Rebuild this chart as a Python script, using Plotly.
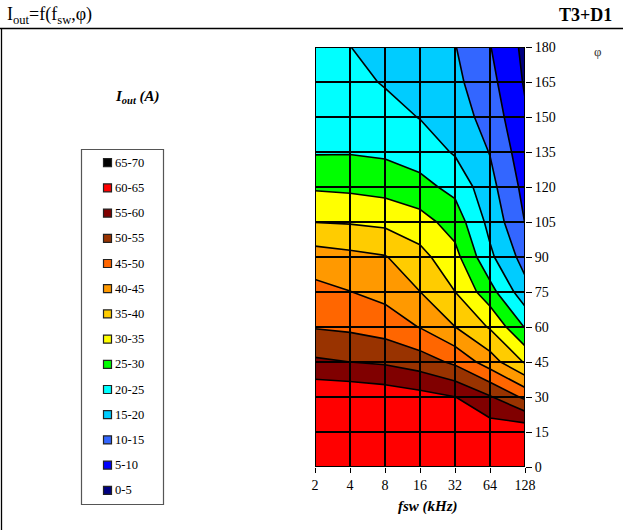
import plotly.graph_objects as go

# ---------------- data ----------------
fsw_labels = ["2", "4", "8", "16", "32", "64", "128"]          # kHz (equally spaced, log2)
phi_values = [0, 15, 30, 45, 60, 75, 90, 105, 120, 135, 150, 165, 180]  # degrees

# Iout (A) along phi (0..180) for each switching frequency
iout_fsw_2   = [64.7, 64.5, 64.3, 55.8, 49.7, 46.5, 42.3, 34.9, 29.4, 24.6, 23.5, 22.5, 21.5]
iout_fsw_4   = [64.6, 64.3, 64.0, 55.0, 49.1, 45.1, 41.3, 34.6, 29.0, 24.7, 23.2, 21.5, 20.05]
iout_fsw_8   = [64.4, 64.0, 63.1, 54.3, 47.8, 43.5, 40.3, 33.9, 28.2, 24.2, 21.9, 19.6, 18.5]
iout_fsw_16  = [64.2, 63.5, 61.8, 52.5, 44.8, 40.05, 36.6, 32.0, 26.5, 22.8, 19.8, 18.0, 16.5]
iout_fsw_32  = [63.8, 62.5, 60.1, 49.0, 40.05, 35.05, 31.6, 27.8, 23.6, 19.5, 17.5, 16.2, 15.2]
iout_fsw_64  = [63.8, 63.0, 55.5, 42.4, 34.5, 26.9, 21.0, 18.5, 16.6, 14.8, 13.0, 11.5, 10.2]
iout_fsw_128 = [64.2, 63.9, 48.9, 34.5, 24.7, 16.8, 13.0, 9.9, 8.5, 7.0, 5.6, 4.5, 3.8]

band_labels = ["0-5", "5-10", "10-15", "15-20", "20-25", "25-30", "30-35",
               "35-40", "40-45", "45-50", "50-55", "55-60", "60-65", "65-70"]
band_colors = ["#000080", "#0000FF", "#3366FF", "#00CCFF", "#00FFFF", "#00FF00", "#FFFF00",
               "#FFCC00", "#FF9900", "#FF6600", "#993300", "#800000", "#FF0000", "#000000"]

# ---------------- build ----------------
columns = [iout_fsw_2, iout_fsw_4, iout_fsw_8, iout_fsw_16, iout_fsw_32, iout_fsw_64, iout_fsw_128]
x_idx = list(range(len(fsw_labels)))
z = [[col[j] for col in columns] for j in range(len(phi_values))]

nb = len(band_colors)
colorscale = []
for k, c in enumerate(band_colors):
    colorscale.append([k / nb, c])
    colorscale.append([(k + 1) / nb - (1e-6 if k < nb - 1 else 0), c])

W, H = 623, 530
L, R, T, B = 315, 525, 47, 467   # plot-area pixel box


def xp(px):
    return (px - L) / (R - L)


def yp(py):
    return (B - py) / (B - T)


fig = go.Figure()
fig.add_trace(go.Contour(
    x=x_idx, y=phi_values, z=z,
    zmin=0, zmax=70,
    contours=dict(start=0, end=70, size=5, coloring="fill", showlines=True),
    line=dict(color="black", width=1.6, smoothing=0),
    colorscale=colorscale, showscale=False, hoverinfo="skip",
))

shapes = []
# grid lines (on top of the filled contours)
for xi in x_idx:
    shapes.append(dict(type="line", xref="x", yref="y", x0=xi, x1=xi,
                       y0=phi_values[0], y1=phi_values[-1],
                       line=dict(color="black", width=2), layer="above"))
for p in phi_values:
    shapes.append(dict(type="line", xref="x", yref="y", x0=x_idx[0], x1=x_idx[-1],
                       y0=p, y1=p, line=dict(color="black", width=2), layer="above"))

# frame of the sheet
shapes.append(dict(type="line", xref="paper", yref="paper", x0=xp(0), x1=xp(623),
                   y0=yp(28.5), y1=yp(28.5), line=dict(color="black", width=1.3)))
shapes.append(dict(type="line", xref="paper", yref="paper", x0=xp(1.5), x1=xp(1.5),
                   y0=yp(28.5), y1=yp(531), line=dict(color="black", width=1.3)))

# legend box
shapes.append(dict(type="rect", xref="paper", yref="paper", x0=xp(81.5), x1=xp(163.5),
                   y0=yp(149.5), y1=yp(504.5), line=dict(color="#555555", width=1.2),
                   fillcolor="white"))

annotations = []
legend_top, legend_step = 162.7, 25.2
order = list(range(nb))[::-1]
for i, k in enumerate(order):
    cy = legend_top + i * legend_step
    shapes.append(dict(type="rect", xref="paper", yref="paper",
                       x0=xp(103.5), x1=xp(111.5), y0=yp(cy - 4), y1=yp(cy + 4),
                       fillcolor=band_colors[k], line=dict(color="#222222", width=1.2)))
    annotations.append(dict(x=xp(112.5), y=yp(cy), xref="paper", yref="paper",
                            text=band_labels[k], showarrow=False, xanchor="left",
                            yanchor="middle",
                            font=dict(family="Liberation Serif", size=12.5, color="black")))

annotations += [
    dict(x=xp(5), y=yp(15), xref="paper", yref="paper", showarrow=False,
         xanchor="left", yanchor="middle",
         text="I<sub>out</sub>=f(f<sub>sw</sub>,φ)",
         font=dict(family="Liberation Serif", size=18, color="black")),
    dict(x=xp(614), y=yp(15), xref="paper", yref="paper", showarrow=False,
         xanchor="right", yanchor="middle", text="<b>T3+D1</b>",
         font=dict(family="Liberation Serif", size=18, color="black")),
    dict(x=xp(137), y=yp(97), xref="paper", yref="paper", showarrow=False,
         xanchor="center", yanchor="middle", text="<b><i>I<sub>out</sub> (A)</i></b>",
         font=dict(family="Liberation Serif", size=15, color="black")),
    dict(x=xp(598), y=yp(52), xref="paper", yref="paper", showarrow=False,
         xanchor="center", yanchor="middle", text="φ",
         font=dict(family="Liberation Serif", size=13, color="#333333")),
    dict(x=xp(428), y=yp(506), xref="paper", yref="paper", showarrow=False,
         xanchor="center", yanchor="middle", text="<b><i>fsw (kHz)</i></b>",
         font=dict(family="Liberation Serif", size=15, color="black")),
]

fig.update_layout(
    width=W, height=H,
    margin=dict(l=L, r=W - R, t=T, b=H - B, pad=0),
    paper_bgcolor="white", plot_bgcolor="white",
    showlegend=False,
    shapes=shapes, annotations=annotations,
    xaxis=dict(range=[x_idx[0], x_idx[-1]], tickvals=x_idx, ticktext=fsw_labels,
               showgrid=False, zeroline=False, showline=False,
               ticks="outside", ticklen=5, tickwidth=1.3, tickcolor="black",
               tickfont=dict(family="Liberation Serif", size=14, color="black")),
    yaxis=dict(range=[phi_values[0], phi_values[-1]], tickvals=phi_values, side="right",
               showgrid=False, zeroline=False, showline=False,
               ticks="outside", ticklen=6, tickwidth=1.3, tickcolor="black",
               tickfont=dict(family="Liberation Serif", size=14, color="black")),
)

fig.write_html("out.html")
